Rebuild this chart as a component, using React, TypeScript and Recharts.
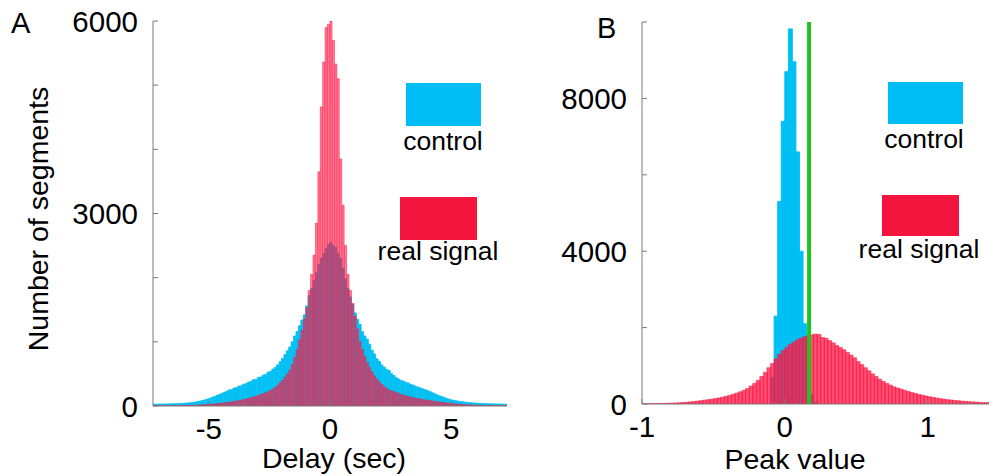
import React from "react";
import { BarChart, Bar, XAxis, YAxis, ReferenceLine } from "recharts";

// Panel A: delay histogram, bins of 0.1 s starting at -7.3
const delayBinStart = -7.3;
const delayBinWidth = 0.1;
const delayControl = [
  29, 30, 30, 31, 31, 32, 33, 34, 35, 36,
  38, 40, 42, 44, 47, 51, 56, 62, 69, 77,
  86, 96, 108, 120, 135, 150, 165, 180, 195, 212,
  230, 250, 255, 280, 286, 310, 316, 340, 348, 372,
  385, 410, 415, 445, 452, 480, 490, 525, 540, 575,
  600, 640, 690, 740, 800, 860, 920, 1000, 1090, 1160,
  1250, 1340, 1420, 1560, 1720, 1830, 1950, 2080, 2200, 2300,
  2380, 2450, 2520, 2550, 2500, 2470, 2380, 2300, 2150, 1980,
  1830, 1700, 1580, 1450, 1350, 1270, 1160, 1090, 1040, 960,
  870, 810, 735, 695, 640, 605, 570, 555, 505, 475,
  440, 420, 395, 388, 366, 358, 335, 325, 305, 296,
  280, 266, 252, 238, 222, 205, 188, 172, 157, 142,
  128, 115, 104, 94, 86, 79, 73, 67, 62, 57,
  53, 50, 47, 44, 42, 40, 38, 37, 35, 34,
  33, 32, 31, 31, 30, 29,
];
const delayReal = [
  3, 3, 3, 3, 4, 4, 4, 5, 5, 6,
  6, 7, 8, 9, 10, 11, 12, 13, 15, 17,
  19, 21, 23, 26, 29, 32, 36, 40, 44, 49,
  54, 59, 65, 71, 78, 85, 92, 100, 110, 120,
  130, 140, 152, 165, 178, 190, 205, 220, 240, 265,
  290, 320, 360, 400, 450, 500, 560, 650, 760, 880,
  1030, 1180, 1350, 1530, 1800, 2050, 2350, 2850, 3650, 4660,
  5360, 5900, 5950, 6000, 5700, 5330, 5100, 3850, 3130, 2500,
  2050, 1800, 1600, 1400, 1200, 1000, 880, 770, 680, 600,
  530, 470, 420, 375, 335, 300, 275, 250, 235, 222,
  210, 195, 180, 168, 157, 147, 138, 130, 122, 114,
  107, 100, 95, 90, 84, 78, 72, 66, 60, 55,
  50, 46, 42, 38, 34, 31, 28, 25, 22, 20,
  18, 16, 14, 13, 12, 11, 10, 9, 8, 7,
  7, 6, 6, 5, 5, 5,
];
const delayTicks = [-5, 0, 5];
const countTicksA = [0, 1000, 2000, 3000, 4000, 5000, 6000];
const countLabelsA = [0, 3000, 6000];

// Panel B: peak value histogram, bins of 0.025 starting at -1
const peakBinStart = -1;
const peakBinWidth = 0.025;
const peakControl = [
  0, 0, 0, 0, 0, 0, 0, 0, 0, 0,
  0, 0, 0, 0, 0, 0, 0, 0, 0, 0,
  0, 0, 0, 0, 0, 0, 0, 0, 0, 0,
  0, 0, 0, 0, 0, 0, 700, 2300, 5300, 7400,
  8700, 9820, 8960, 6600, 4000, 2100, 900, 250, 50, 0,
  0, 0, 0, 0, 0, 0, 0, 0, 0, 0,
  0, 0, 0, 0, 0, 0, 0, 0, 0, 0,
  0, 0, 0, 0, 0, 0, 0, 0, 0, 0,
  0, 0, 0, 0, 0, 0, 0, 0, 0, 0,
  0, 0, 0, 0, 0, 0, 0, 0, 0, 0,
];
const peakReal = [
  5, 6, 7, 9, 11, 13, 16, 19, 23, 28,
  33, 39, 46, 55, 64, 75, 88, 100, 113, 125,
  140, 158, 178, 200, 225, 255, 285, 320, 360, 405,
  470, 540, 620, 720, 830, 950, 1060, 1180, 1300, 1400,
  1480, 1560, 1620, 1680, 1720, 1760, 1790, 1810, 1830, 1820,
  1740, 1720, 1660, 1600, 1530, 1480, 1420, 1350, 1280, 1210,
  1110, 1030, 950, 870, 790, 720, 650, 590, 540, 495,
  450, 420, 390, 360, 330, 300, 275, 250, 230, 210,
  190, 172, 155, 140, 126, 114, 104, 94, 85, 76,
  68, 61, 55, 49, 44, 40, 36, 33, 30, 27,
];
const peakTicks = [-1, 0, 1];
const countTicksB = [0, 2000, 4000, 6000, 8000, 10000];
const countLabelsB = [0, 4000, 8000];
const threshold = 0.17;

const FONT = '"Liberation Sans", Arial, Helvetica, sans-serif';
const AXIS = "#7a7a7a";
const BLUE = "#00bff3";
const RED = "#ff1744";
const GREEN = "#1fc41f";

const toRows = (start: number, width: number, control: number[], real: number[]) =>
  control.map((c, i) => ({
    x: +(start + width * (i + 0.5)).toFixed(4),
    control: c,
    real: real[i],
  }));

const rowsA = toRows(delayBinStart, delayBinWidth, delayControl, delayReal);
const rowsB = toRows(peakBinStart, peakBinWidth, peakControl, peakReal);

type Box = { left: number; right: number; top: number; bottom: number };

const leftTick = (box: Box, labels: number[]) => (p: any) => (
  <g>
    <line x1={box.left} x2={box.left + 5} y1={p.y} y2={p.y} stroke={AXIS} />
    {labels.includes(p.payload.value) && (
      <text x={box.left - 15} y={p.y} dy="0.36em" textAnchor="end" fontSize={29.5} fontFamily={FONT} fill="#000">
        {p.payload.value}
      </text>
    )}
  </g>
);

const rightTick = (box: Box) => (p: any) => (
  <line x1={box.right - 5} x2={box.right} y1={p.y} y2={p.y} stroke={AXIS} />
);

const bottomTick = (box: Box) => (p: any) => (
  <g>
    <line x1={p.x} x2={p.x} y1={box.bottom} y2={box.bottom - 5} stroke={AXIS} />
    <text x={p.x} y={box.bottom + 22} dy="0.36em" textAnchor="middle" fontSize={29.5} fontFamily={FONT} fill="#000">
      {p.payload.value}
    </text>
  </g>
);

const topTick = (box: Box) => (p: any) => (
  <line x1={p.x} x2={p.x} y1={box.top} y2={box.top + 5} stroke={AXIS} />
);

function Panel({
  left, width, box, rows, xDomain, xTicks, yDomain, yTicks, yLabels, redOpacity, marker,
}: {
  left: number; width: number; box: Box; rows: any[]; xDomain: [number, number]; xTicks: number[];
  yDomain: [number, number]; yTicks: number[]; yLabels: number[]; redOpacity: number; marker?: number;
}) {
  const H = 476;
  const local = { left: box.left - left, right: box.right - left, top: box.top, bottom: box.bottom };
  return (
    <div style={{ position: "absolute", left, top: 0 }}>
      <BarChart
        width={width}
        height={H}
        data={rows}
        margin={{ top: box.top, right: width - local.right, bottom: 0, left: 0 }}
        barCategoryGap={0}
        barGap={0}
      >
        <XAxis xAxisId="x" dataKey="x" type="number" domain={xDomain} ticks={xTicks} interval={0}
          height={H - box.bottom} allowDataOverflow tickLine={false} axisLine={{ stroke: AXIS }} tick={bottomTick(local)} />
        <XAxis xAxisId="x2" dataKey="x" type="number" domain={xDomain} allowDataOverflow hide />
        <XAxis xAxisId="top" orientation="top" dataKey="x" type="number" domain={xDomain} ticks={xTicks} interval={0}
          height={0} allowDataOverflow tickLine={false} axisLine={{ stroke: AXIS }} tick={topTick(local)} />
        <YAxis yAxisId="y" type="number" domain={yDomain} ticks={yTicks} interval={0} width={local.left}
          allowDataOverflow tickLine={false} axisLine={{ stroke: AXIS }} tick={leftTick(local, yLabels)} />
        <YAxis yAxisId="r" orientation="right" type="number" domain={yDomain} ticks={yTicks} interval={0} width={0}
          allowDataOverflow tickLine={false} axisLine={{ stroke: AXIS }} tick={rightTick(local)} />
        <Bar xAxisId="x" yAxisId="y" dataKey="control" fill={BLUE} stroke={BLUE} strokeWidth={0.9} isAnimationActive={false} />
        <Bar xAxisId="x2" yAxisId="y" dataKey="real" fill={RED} fillOpacity={redOpacity} stroke={RED}
          strokeOpacity={0.9} strokeWidth={0.6} isAnimationActive={false} />
        {marker !== undefined && (
          <ReferenceLine xAxisId="x" yAxisId="y" x={marker} stroke={GREEN} strokeWidth={4} />
        )}
      </BarChart>
    </div>
  );
}

function LegendBox({ x, y, w, h, color, label, cx, baseline }: any) {
  return (
    <g>
      <rect x={x} y={y} width={w} height={h} fill={color} />
      <text x={cx} y={baseline} textAnchor="middle" fontSize={26.5} fontFamily={FONT} fill="#000">{label}</text>
    </g>
  );
}

export default function App() {
  return (
    <div style={{ position: "absolute", left: 0, top: 0, width: 989, height: 476, overflow: "hidden", background: "#fff" }}>
      <Panel left={0} width={520} box={{ left: 153, right: 507, top: 21, bottom: 406 }} rows={rowsA}
        xDomain={[-7.3, 7.3]} xTicks={delayTicks} yDomain={[0, 6000]} yTicks={countTicksA} yLabels={countLabelsA}
        redOpacity={0.55} />
      <Panel left={510} width={500} box={{ left: 642, right: 999, top: 22, bottom: 404 }} rows={rowsB}
        xDomain={[-1, 1.5]} xTicks={peakTicks} yDomain={[0, 10000]} yTicks={countTicksB} yLabels={countLabelsB}
        redOpacity={0.75} marker={threshold} />
      <svg width={989} height={476} style={{ position: "absolute", left: 0, top: 0, pointerEvents: "none" }}>
        <text x={11} y={33} fontSize={29} fontFamily={FONT}>A</text>
        <text x={597} y={38} fontSize={29} fontFamily={FONT}>B</text>
        <text x={334} y={468} textAnchor="middle" fontSize={28.5} fontFamily={FONT}>Delay (sec)</text>
        <text x={795} y={469} textAnchor="middle" fontSize={28.5} fontFamily={FONT}>Peak value</text>
        <text transform="translate(48,219) rotate(-90)" textAnchor="middle" fontSize={28.5} fontFamily={FONT}>
          Number of segments
        </text>
        <LegendBox x={406} y={83} w={75} h={43} color="#00bdf5" label="control" cx={443} baseline={150} />
        <LegendBox x={400} y={197} w={77} h={43} color="#f3153d" label="real signal" cx={438} baseline={260} />
        <LegendBox x={888} y={82} w={75} h={42} color="#00bdf5" label="control" cx={924} baseline={148} />
        <LegendBox x={882} y={195} w={77} h={41} color="#f3153d" label="real signal" cx={919} baseline={258} />
      </svg>
    </div>
  );
}
